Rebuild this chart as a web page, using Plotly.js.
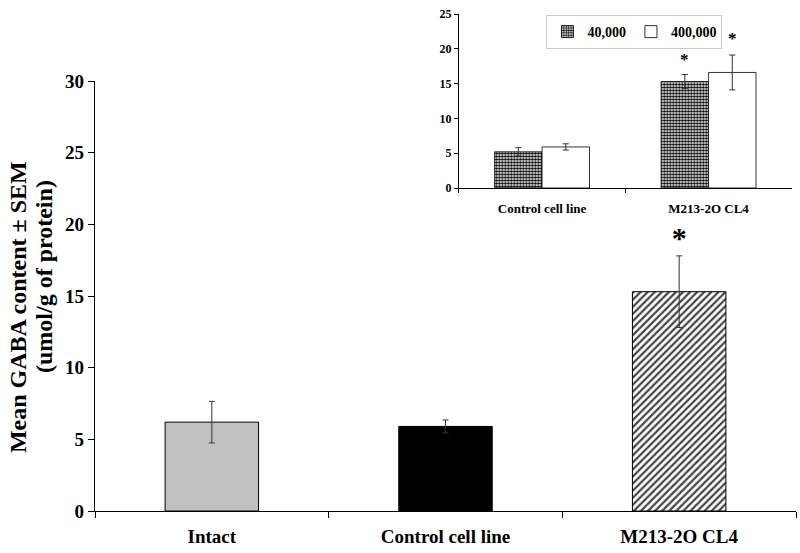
<!DOCTYPE html>
<html><head><meta charset="utf-8">
<script src="https://cdn.plot.ly/plotly-3.0.1.min.js"></script>
<style>body{margin:0;background:#fff}#c{width:800px;height:553px}</style>
</head><body><div id="c"></div>
<script>
// Main chart data
var mainCats = ['Intact', 'Control cell line', 'M213-2O CL4'];
var mainVals = [6.2, 5.9, 15.3];
var mainErr = [1.45, 0.45, 2.5];
var mainStarY = [null, null, 18.9];
var mainStarText = ['', '', '*'];
var yTitleLines = ['Mean GABA content ± SEM', '(umol/g of protein)'];

// Inset data
var insetCats = ['Control cell line', 'M213-2O CL4'];
var s40k = [5.2, 15.3];
var s40kErr = [0.6, 1.0];
var s400k = [5.9, 16.6];
var s400kErr = [0.45, 2.5];
var s40kStarY = [null, 18.4];
var s400kStarY = [null, 21.5];
var seriesNames = ['40,000', '400,000'];
var mainTicks = [0, 5, 10, 15, 20, 25, 30];
var insetTicks = [0, 5, 10, 15, 20, 25];

var FONT = 'Liberation Serif, Times New Roman, serif';
var errStyle = {type: 'data', visible: true, color: '#333', thickness: 1, width: 3};
var INSET_GAP = 0.43;
var half = (1 - INSET_GAP) / 4;

var traces = [
  {type: 'bar', x: mainCats, y: mainVals, xaxis: 'x', yaxis: 'y', showlegend: false,
   width: 0.4,
   marker: {color: ['#c0c0c0', '#000000', '#ffffff'], line: {color: '#000', width: 1},
            pattern: {shape: ['', '', '/'], fillmode: 'overlay', fgcolor: '#000', fgopacity: 1, size: 5, solidity: 0.45}},
   error_y: Object.assign({array: mainErr}, errStyle), hoverinfo: 'skip'},
  {type: 'scatter', mode: 'text', x: mainCats, y: mainStarY, text: mainStarText, xaxis: 'x', yaxis: 'y',
   showlegend: false, textfont: {family: FONT, size: 30, weight: 'bold', color: '#000'}, textposition: 'middle center', cliponaxis: false},
  {type: 'bar', name: seriesNames[0], x: insetCats, y: s40k, xaxis: 'x2', yaxis: 'y2',
   marker: {color: '#ffffff', line: {color: '#000', width: 0.8},
            pattern: {shape: '.', fillmode: 'overlay', fgcolor: '#000', fgopacity: 1, size: 3, solidity: 0.55}},
   error_y: Object.assign({array: s40kErr}, errStyle)},
  {type: 'bar', name: seriesNames[1], x: insetCats, y: s400k, xaxis: 'x2', yaxis: 'y2',
   marker: {color: '#ffffff', line: {color: '#000', width: 0.8}},
   error_y: Object.assign({array: s400kErr}, errStyle)}
];

var annotations = [];
insetCats.forEach(function (c, i) {
  if (s40kStarY[i] != null) annotations.push({xref: 'x2', yref: 'y2', x: i - half, y: s40kStarY[i], text: '*', showarrow: false,
    font: {family: FONT, size: 17, weight: 'bold', color: '#000'}});
  if (s400kStarY[i] != null) annotations.push({xref: 'x2', yref: 'y2', x: i + half, y: s400kStarY[i], text: '*', showarrow: false,
    font: {family: FONT, size: 17, weight: 'bold', color: '#000'}});
});
// y-axis title, two rotated lines
annotations.push({xref: 'paper', yref: 'paper', x: -0.1098, y: 0.407, xanchor: 'center', yanchor: 'middle', textangle: -90,
  text: yTitleLines[0], showarrow: false, font: {family: FONT, size: 24, weight: 'bold', color: '#000'}});
annotations.push({xref: 'paper', yref: 'paper', x: -0.0728, y: 0.469, xanchor: 'center', yanchor: 'middle', textangle: -90,
  text: yTitleLines[1], showarrow: false, font: {family: FONT, size: 24, weight: 'bold', color: '#000'}});

var layout = {
  width: 800, height: 553,
  margin: {l: 95, r: 4, t: 10, b: 42},
  paper_bgcolor: '#fff', plot_bgcolor: 'rgba(0,0,0,0)',
  font: {family: FONT, color: '#000', weight: 'bold'},
  barmode: 'group',
  bargap: INSET_GAP, bargroupgap: 0,
  xaxis: {domain: [0, 1], anchor: 'y', showline: true, linecolor: '#000', linewidth: 1.3,
          ticks: 'outside', tickson: 'boundaries', ticklen: 6, tickcolor: '#000', ticklabelstandoff: 8,
          tickfont: {family: FONT, size: 19, weight: 'bold'}, showgrid: false, zeroline: false, fixedrange: true},
  yaxis: {domain: [0, 430 / 501], anchor: 'x', range: [0, 30], tickvals: mainTicks, showline: true, linecolor: '#000', linewidth: 1.3,
          ticks: 'outside', ticklen: 6, tickcolor: '#000', showgrid: false, zeroline: false,
          tickfont: {family: FONT, size: 19, weight: 'bold'}},
  xaxis2: {domain: [0.519, 0.994], anchor: 'y2', showline: true, linecolor: '#000', linewidth: 1,
           ticks: 'outside', tickson: 'boundaries', ticklen: 4, tickcolor: '#000', ticklabelstandoff: 8,
           tickfont: {family: FONT, size: 13, weight: 'bold'}, showgrid: false, zeroline: false},
  yaxis2: {domain: [0.6447, 0.992], anchor: 'x2', range: [0, 25], tickvals: insetTicks, showline: true, linecolor: '#000', linewidth: 1,
           ticks: 'outside', ticklen: 4, tickcolor: '#000', showgrid: false, zeroline: false,
           tickfont: {family: FONT, size: 12, weight: 'bold'}},
  showlegend: true,
  legend: {orientation: 'h', x: 0.644, y: 0.99, xanchor: 'left', yanchor: 'top', bgcolor: '#fff',
           bordercolor: '#ccc', borderwidth: 1, font: {family: FONT, size: 14, weight: 'bold'},
           itemwidth: 30, tracegroupgap: 0},
  annotations: annotations
};

Plotly.newPlot('c', traces, layout, {displayModeBar: false, staticPlot: true});
</script></body></html>
